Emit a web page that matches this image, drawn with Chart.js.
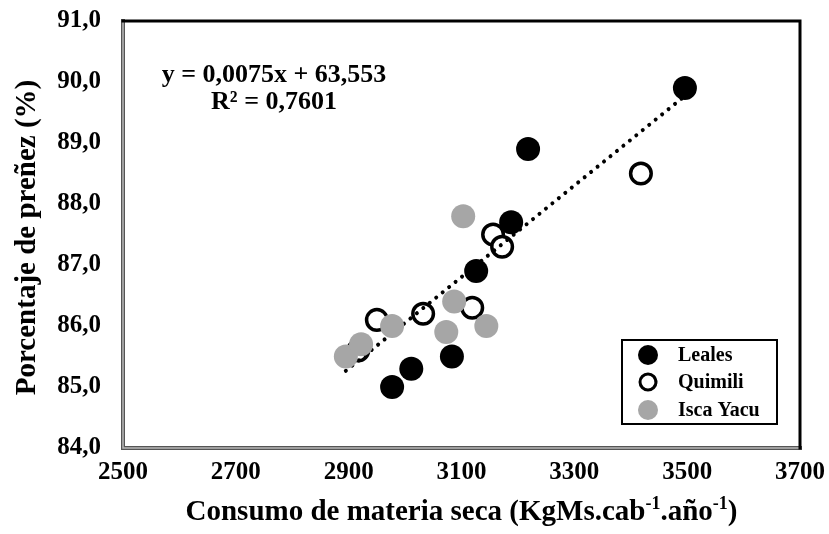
<!DOCTYPE html>
<html>
<head>
<meta charset="utf-8">
<script src="https://cdn.jsdelivr.net/npm/chart.js@4.4.1/dist/chart.umd.min.js"></script>
<style>
  html, body { margin: 0; padding: 0; background: #fff; }
</style>
</head>
<body>
<canvas id="chart" width="829" height="534"></canvas>
<script>
// consumo de materia seca vs porcentaje de preñez, por zona
const lealesX = [2977, 3011, 3083, 3126, 3188, 3218, 3496];
const lealesY = [85.0, 85.3, 85.5, 86.9, 87.7, 88.9, 89.9];
const quimiliX = [2917, 2950, 3032, 3119, 3156, 3172, 3418];
const quimiliY = [85.6, 86.1, 86.2, 86.3, 87.5, 87.3, 88.5];
const iscaX = [2895, 2922, 2977, 3073, 3087, 3103, 3144];
const iscaY = [85.5, 85.7, 86.0, 85.9, 86.4, 87.8, 86.0];
const seriesNames = ['Leales', 'Quimili', 'Isca Yacu'];
const xTicks = [2500, 2700, 2900, 3100, 3300, 3500, 3700];
const yTicks = [84, 85, 86, 87, 88, 89, 90, 91];

// linear trend (all points)
const slope = 0.0075;
const intercept = 63.553;
const r2 = 0.7601;

const SERIF = "'Liberation Serif', 'Times New Roman', serif";
const GRAY = '#a6a6a6';

function pts(xs, ys) {
  return xs.map((x, i) => ({ x: x, y: ys[i] }));
}
function comma(v, d) {
  return v.toFixed(d).replace('.', ',');
}

const allX = lealesX.concat(quimiliX, iscaX);
const xMin = Math.min(...allX), xMax = Math.max(...allX);
const trend = [xMin, xMax].map(x => ({ x: x, y: slope * x + intercept }));

// frame, equation, legend and axis titles
const decor = {
  id: 'decor',
  beforeDraw(chart) {
    const ctx = chart.ctx;
    ctx.save();
    ctx.fillStyle = '#fff';
    ctx.fillRect(0, 0, chart.width, chart.height);
    ctx.restore();
  },
  afterDraw(chart) {
    const ctx = chart.ctx;
    const a = chart.chartArea;
    ctx.save();

    // plot frame: grey left/bottom, black top/right
    ctx.lineCap = 'square';
    ctx.strokeStyle = '#555';
    ctx.lineWidth = 4;
    ctx.beginPath();
    ctx.moveTo(a.left, a.top);
    ctx.lineTo(a.left, a.bottom);
    ctx.lineTo(a.right, a.bottom);
    ctx.stroke();
    ctx.strokeStyle = '#b8b8b8';
    ctx.lineWidth = 1.5;
    ctx.beginPath();
    ctx.moveTo(a.left, a.top);
    ctx.lineTo(a.left, a.bottom);
    ctx.lineTo(a.right, a.bottom);
    ctx.stroke();
    ctx.strokeStyle = '#000';
    ctx.lineWidth = 3;
    ctx.beginPath();
    ctx.moveTo(a.left, a.top);
    ctx.lineTo(a.right, a.top);
    ctx.lineTo(a.right, a.bottom);
    ctx.stroke();

    // regression text
    ctx.fillStyle = '#000';
    ctx.textAlign = 'center';
    ctx.textBaseline = 'alphabetic';
    ctx.font = 'bold 26px ' + SERIF;
    ctx.fillText('y = ' + comma(slope, 4) + 'x + ' + comma(intercept, 3), 274, 82);
    ctx.fillText('R² = ' + comma(r2, 4), 274, 109);

    // legend box
    ctx.lineWidth = 2;
    ctx.strokeStyle = '#000';
    ctx.strokeRect(622, 340, 155, 84);
    const rows = [355, 382, 410];
    ctx.font = 'bold 20px ' + SERIF;
    ctx.textAlign = 'left';
    ctx.textBaseline = 'middle';
    rows.forEach((y, i) => {
      ctx.beginPath();
      if (i === 1) {
        ctx.arc(648, y, 8, 0, Math.PI * 2);
        ctx.fillStyle = '#fff';
        ctx.fill();
        ctx.lineWidth = 3;
        ctx.strokeStyle = '#000';
        ctx.stroke();
      } else {
        ctx.arc(648, y, 10, 0, Math.PI * 2);
        ctx.fillStyle = i === 0 ? '#000' : GRAY;
        ctx.fill();
      }
      ctx.fillStyle = '#000';
      ctx.fillText(seriesNames[i], 678, y + 1);
    });

    // y title
    ctx.save();
    ctx.translate(28, (a.top + a.bottom) / 2 + 3);
    ctx.rotate(-Math.PI / 2);
    ctx.textAlign = 'center';
    ctx.textBaseline = 'middle';
    ctx.font = 'bold 29px ' + SERIF;
    ctx.fillText('Porcentaje de preñez (%)', 0, 0);
    ctx.restore();

    // x title with superscripts
    const parts = [
      ['Consumo de materia seca (KgMs.cab', false],
      ['-1', true],
      ['.año', false],
      ['-1', true],
      [')', false]
    ];
    const big = 'bold 29px ' + SERIF, small = 'bold 18px ' + SERIF;
    let w = 0;
    parts.forEach(p => { ctx.font = p[1] ? small : big; w += ctx.measureText(p[0]).width; });
    let x = (a.left + a.right) / 2 - w / 2;
    const base = 520;
    ctx.textAlign = 'left';
    ctx.textBaseline = 'alphabetic';
    parts.forEach(p => {
      ctx.font = p[1] ? small : big;
      ctx.fillText(p[0], x, p[1] ? base - 11 : base);
      x += ctx.measureText(p[0]).width;
    });

    ctx.restore();
  }
};

new Chart(document.getElementById('chart'), {
  type: 'scatter',
  data: {
    datasets: [
      {
        label: seriesNames[2],
        data: pts(iscaX, iscaY),
        backgroundColor: GRAY,
        borderWidth: 0,
        pointRadius: 12,
        order: 0
      },
      {
        label: 'Lineal',
        type: 'line',
        data: trend,
        borderColor: '#000',
        borderWidth: 4,
        borderDash: [0.01, 8.3],
        borderCapStyle: 'round',
        pointRadius: 0,
        fill: false,
        order: 1
      },
      {
        label: seriesNames[1],
        data: pts(quimiliX, quimiliY),
        backgroundColor: '#fff',
        borderColor: '#000',
        borderWidth: 3.5,
        pointRadius: 10.3,
        order: 2
      },
      {
        label: seriesNames[0],
        data: pts(lealesX, lealesY),
        backgroundColor: '#000',
        borderWidth: 0,
        pointRadius: 12,
        order: 3
      }
    ]
  },
  options: {
    responsive: false,
    animation: false,
    layout: { padding: { top: 21, right: 29, left: 0, bottom: 0 } },
    plugins: {
      legend: { display: false },
      tooltip: { enabled: false }
    },
    scales: {
      x: {
        type: 'linear',
        min: xTicks[0],
        max: xTicks[xTicks.length - 1],
        afterBuildTicks(s) { s.ticks = xTicks.map(v => ({ value: v })); },
        afterFit(s) {
          s.height = 86;
          s.paddingLeft = 0;
          s.paddingRight = 0;
        },
        grid: { display: false, drawTicks: false },
        border: { display: false },
        ticks: {
          padding: 10,
          color: '#000',
          font: { family: SERIF, size: 25, weight: 'bold' },
          maxRotation: 0,
          callback: v => String(v)
        }
      },
      y: {
        type: 'linear',
        min: yTicks[0],
        max: yTicks[yTicks.length - 1],
        afterBuildTicks(s) { s.ticks = yTicks.map(v => ({ value: v })); },
        afterFit(s) {
          s.width = 123;
          s.paddingTop = 0;
          s.paddingBottom = 0;
        },
        grid: { display: false, drawTicks: false },
        border: { display: false },
        ticks: {
          padding: 22,
          color: '#000',
          font: { family: SERIF, size: 25, weight: 'bold' },
          callback: v => comma(v, 1)
        }
      }
    }
  },
  plugins: [decor]
});
</script>
</body>
</html>
